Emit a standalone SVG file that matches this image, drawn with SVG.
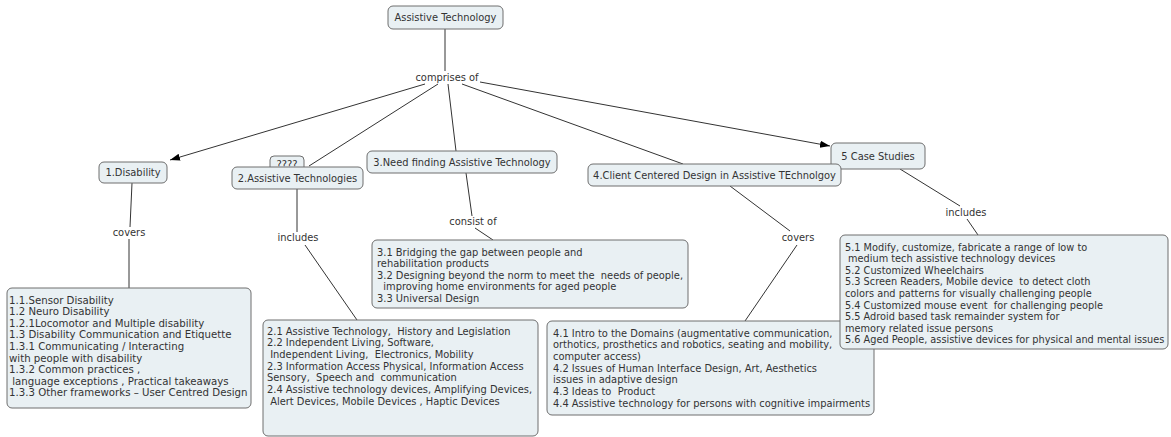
<svg xmlns="http://www.w3.org/2000/svg" width="1171" height="437" viewBox="0 0 1171 437">
<style>
.box{fill:#e9f0f3;stroke:#6e6e6e;stroke-width:1}
.t{font-family:"DejaVu Sans",Verdana,sans-serif;font-size:9.9px;fill:#333;white-space:pre}
.b1 .t{font-size:10.2px}
.b5 .t{font-size:9.75px}
.c{text-anchor:middle}
.ln{stroke:#333;stroke-width:1;fill:none}
</style>
<defs>
<marker id="ah" markerUnits="userSpaceOnUse" markerWidth="11" markerHeight="8" refX="10" refY="3.5" orient="auto">
<path d="M0,0 L10,3.5 L0,7 z" fill="#000"/>
</marker>
</defs>
<rect width="1171" height="437" fill="#fff"/>
<g id="connectors">
<line class="ln" x1="445" y1="29" x2="445" y2="71"/>
<line class="ln" x1="425" y1="84" x2="170" y2="160" marker-end="url(#ah)"/>
<line class="ln" x1="438" y1="84" x2="309" y2="166"/>
<line class="ln" x1="448" y1="84" x2="456" y2="151"/>
<line class="ln" x1="462" y1="84" x2="683" y2="164"/>
<line class="ln" x1="480" y1="82" x2="830" y2="146" marker-end="url(#ah)"/>
<line class="ln" x1="132" y1="183" x2="130" y2="227"/>
<line class="ln" x1="129" y1="239" x2="129" y2="288"/>
<line class="ln" x1="297" y1="189" x2="297" y2="232"/>
<line class="ln" x1="305" y1="245" x2="357" y2="320"/>
<line class="ln" x1="466" y1="173" x2="472" y2="216"/>
<line class="ln" x1="475" y1="228" x2="493" y2="240"/>
<line class="ln" x1="730" y1="186" x2="790" y2="231"/>
<line class="ln" x1="797" y1="245" x2="745" y2="321"/>
<line class="ln" x1="900" y1="169" x2="960" y2="206"/>
<line class="ln" x1="967" y1="219" x2="978" y2="235"/>
</g>
<g id="labels">
<text class="t c" x="447" y="81">comprises of</text>
<text class="t c" x="129" y="236">covers</text>
<text class="t c" x="298" y="241">includes</text>
<text class="t c" x="473" y="225">consist of</text>
<text class="t c" x="798" y="241">covers</text>
<text class="t c" x="966" y="216">includes</text>
</g>
<g id="root"><rect class="box" x="388" y="6" width="115" height="23" rx="5"/><text class="t c" x="445.5" y="21">Assistive Technology</text></g>
<g id="n1"><rect class="box" x="99" y="162" width="68" height="21" rx="5"/><text class="t c" x="133" y="176">1.Disability</text></g>
<g id="nq"><rect class="box" x="270" y="156" width="34" height="16" rx="4"/><text class="t c" x="287" y="168">????</text></g>
<g id="n2"><rect class="box" x="232" y="167" width="131" height="22" rx="5"/><text class="t c" x="297.5" y="181.5">2.Assistive Technologies</text></g>
<g id="n3"><rect class="box" x="367" y="151" width="190" height="22" rx="5"/><text class="t c" x="462" y="165.5">3.Need finding Assistive Technology</text></g>
<g id="n5"><rect class="box" x="831" y="143" width="94" height="26" rx="5"/><text class="t c" x="878" y="159.5">5 Case Studies</text></g>
<g id="n4"><rect class="box" x="588" y="164" width="253" height="22" rx="5"/><text class="t c" x="714.5" y="178.5">4.Client Centered Design in Assistive TEchnolgoy</text></g>
<g id="b1" class="b1"><rect class="box" x="7" y="288" width="244" height="120" rx="5"/>
<text class="t" x="9" y="303.5">1.1.Sensor Disability</text>
<text class="t" x="9" y="315.1">1.2 Neuro Disability</text>
<text class="t" x="9" y="326.7">1.2.1Locomotor and Multiple disability</text>
<text class="t" x="9" y="338.3">1.3 Disability Communication and Etiquette</text>
<text class="t" x="9" y="349.9">1.3.1 Communicating / Interacting</text>
<text class="t" x="9" y="361.5">with people with disability</text>
<text class="t" x="9" y="373.1">1.3.2 Common practices ,</text>
<text class="t" x="9" y="384.7"> language exceptions , Practical takeaways</text>
<text class="t" x="9" y="396.3">1.3.3 Other frameworks – User Centred Design</text>
</g>
<g id="b2"><rect class="box" x="263" y="320" width="275" height="116" rx="5"/>
<text class="t" x="267" y="334.5">2.1 Assistive Technology,  History and Legislation</text>
<text class="t" x="267" y="346.2">2.2 Independent Living, Software,</text>
<text class="t" x="267" y="357.9"> Independent Living,  Electronics, Mobility</text>
<text class="t" x="267" y="369.6">2.3 Information Access Physical, Information Access</text>
<text class="t" x="267" y="381.3">Sensory,  Speech and  communication</text>
<text class="t" x="267" y="393">2.4 Assistive technology devices, Amplifying Devices,</text>
<text class="t" x="267" y="404.7"> Alert Devices, Mobile Devices , Haptic Devices</text>
</g>
<g id="b3"><rect class="box" x="372" y="240" width="316" height="68" rx="5"/>
<text class="t" x="377" y="255.5">3.1 Bridging the gap between people and</text>
<text class="t" x="377" y="267.1">rehabilitation products</text>
<text class="t" x="377" y="278.7">3.2 Designing beyond the norm to meet the  needs of people,</text>
<text class="t" x="377" y="290.3">  improving home environments for aged people</text>
<text class="t" x="377" y="301.9">3.3 Universal Design</text>
</g>
<g id="b4"><rect class="box" x="547" y="321" width="327" height="94" rx="5"/>
<text class="t" x="553" y="336.5">4.1 Intro to the Domains (augmentative communication,</text>
<text class="t" x="553" y="348.2">orthotics, prosthetics and robotics, seating and mobility,</text>
<text class="t" x="553" y="359.9">computer access)</text>
<text class="t" x="553" y="371.6">4.2 Issues of Human Interface Design, Art, Aesthetics</text>
<text class="t" x="553" y="383.3">issues in adaptive design</text>
<text class="t" x="553" y="395">4.3 Ideas to  Product</text>
<text class="t" x="553" y="406.7">4.4 Assistive technology for persons with cognitive impairments</text>
</g>
<g id="b5" class="b5"><rect class="box" x="840" y="235" width="328" height="114" rx="5"/>
<text class="t" x="845" y="250.5">5.1 Modify, customize, fabricate a range of low to</text>
<text class="t" x="845" y="262.1"> medium tech assistive technology devices</text>
<text class="t" x="845" y="273.7">5.2 Customized Wheelchairs</text>
<text class="t" x="845" y="285.3">5.3 Screen Readers, Mobile device  to detect cloth</text>
<text class="t" x="845" y="296.9">colors and patterns for visually challenging people</text>
<text class="t" x="845" y="308.5">5.4 Customized mouse event  for challenging people</text>
<text class="t" x="845" y="320.1">5.5 Adroid based task remainder system for</text>
<text class="t" x="845" y="331.7">memory related issue persons</text>
<text class="t" x="845" y="343.3">5.6 Aged People, assistive devices for physical and mental issues</text>
</g>
</svg>
